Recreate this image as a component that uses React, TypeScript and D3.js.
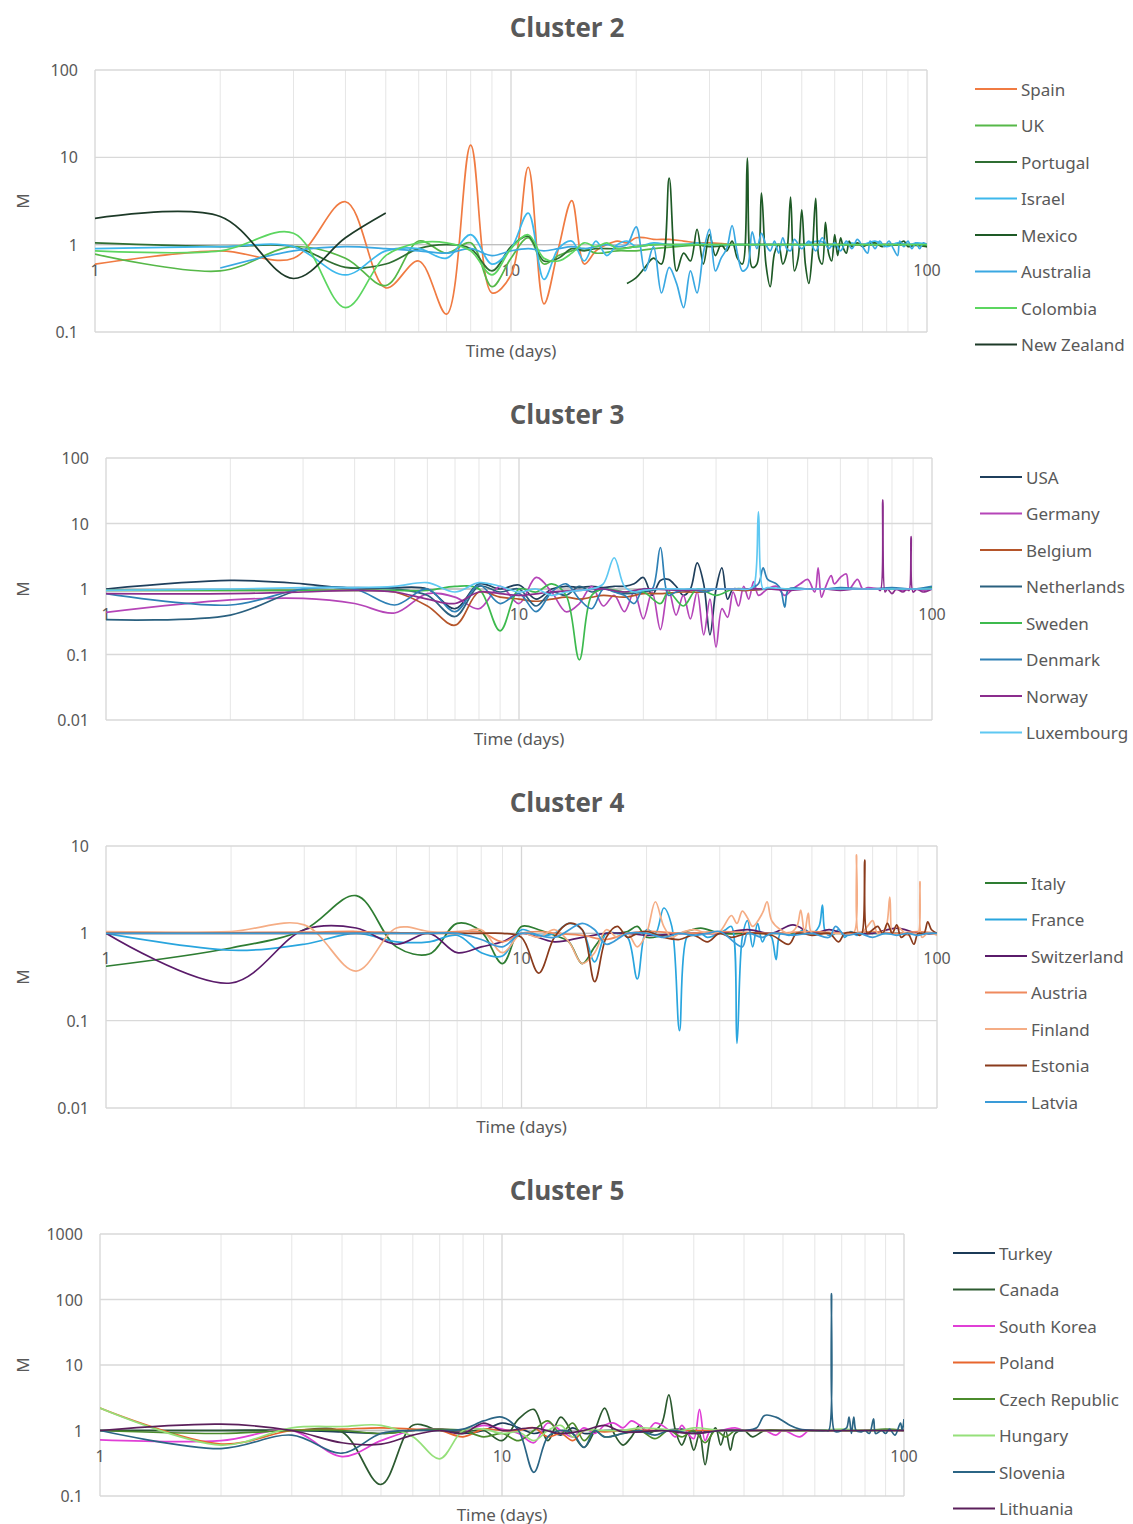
import React from "react";
import * as d3 from "d3";

type Pt = [number, number];

// ---------- Cluster 2 ----------
const spain: Pt[] = [[1,0.6],[2,0.85],[3,0.7],[4,3.1],[5,0.32],[6,0.65],[7,0.16],[8,13.8],[9,0.28],[10,0.45],[11,7.7],[12,0.21],[13,0.9],[14,3.2],[15,0.6],[16,0.85],[17,1.0],[18,1.1],[19,1.05],[20,1.2],[21,1.2],[22,1.15],[24,1.15],[26,1.1],[28,1.05],[30,1.05],[35,1.0],[40,1.0],[50,1.0],[60,1.0],[70,1.0],[80,1.0],[90,1.0],[100,1.0]];
const uk: Pt[] = [[1,0.78],[2,0.5],[3,0.95],[4,0.7],[5,0.34],[6,1.1],[7,0.8],[8,1.05],[9,0.33],[10,0.7],[11,1.2],[12,0.6],[13,0.75],[14,0.85],[15,0.9],[16,0.8],[18,0.85],[20,0.85],[22,0.9],[25,0.95],[30,1.0],[40,1.0],[50,1.0],[60,1.0],[70,1.0],[80,1.0],[90,1.0],[100,1.0]];
const portugal: Pt[] = [[1,1.05],[2,0.95],[3,0.95],[4,0.55],[5,0.6],[6,0.9],[7,1.0],[8,0.9],[9,0.5],[10,0.95],[11,1.25],[12,0.65],[13,0.7],[14,0.9],[15,0.85],[16,0.9],[18,0.9],[20,0.95],[22,1.0],[25,1.0],[28,1.0],[30,0.95],[35,1.0],[40,1.0],[50,1.0],[60,1.0],[70,1.0],[80,1.0],[90,1.0],[100,0.95]];
const israel: Pt[] = [[1,0.9],[2,0.95],[3,0.95],[4,0.45],[5,0.85],[6,0.9],[7,0.7],[8,1.3],[9,0.6],[10,0.9],[11,2.3],[12,0.4],[13,0.9],[14,1.1],[15,0.65],[16,1.1],[17,0.75],[18,1.0],[19,1.1],[20,0.95],[22,1.05],[24,1.0],[26,1.0],[28,1.05],[30,1.0],[35,1.0],[40,1.0],[45,1.0],[50,1.0],[55,1.1],[60,0.95],[65,1.05],[70,1.0],[75,1.1],[80,0.95],[85,1.05],[90,1.0],[95,1.05],[100,1.0]];
const mexico: Pt[] = [[19,0.36],[20,0.42],[21,0.55],[22,0.7],[23,0.6],[24,5.8],[25,0.5],[26,0.8],[27,0.65],[28,1.5],[29,0.6],[30,1.3],[31,0.75],[32,1.0],[33,0.85],[34,1.1],[35,0.7],[36,0.6],[37,9.8],[38,0.55],[39,0.6],[40,3.9],[41,0.6],[42,0.33],[43,0.8],[44,1.0],[45,0.6],[46,0.8],[47,3.5],[48,0.5],[49,0.7],[50,2.5],[51,0.6],[52,0.36],[53,0.8],[54,3.4],[55,0.7],[56,0.6],[57,1.8],[58,0.8],[59,0.65],[60,1.3],[61,0.75],[62,1.2],[63,0.9],[64,0.8],[65,1.1],[66,0.95],[68,1.05],[70,0.95],[72,1.0],[75,1.05],[78,0.95],[80,1.0],[85,1.0],[88,1.1],[90,0.95],[95,1.0],[100,0.95]];
const australia: Pt[] = [[2,0.54],[3,0.85],[4,0.95],[5,0.9],[6,0.85],[7,0.8],[8,0.9],[9,0.75],[10,0.85],[11,0.9],[12,0.85],[13,0.9],[14,0.95],[15,0.9],[16,0.95],[17,1.0],[18,0.95],[19,1.0],[20,1.6],[21,0.5],[22,0.95],[23,0.28],[24,0.55],[25,0.36],[26,0.19],[27,0.5],[28,0.28],[29,0.8],[30,1.5],[31,0.5],[32,0.7],[33,0.9],[34,1.65],[35,0.8],[36,0.5],[37,0.55],[38,1.4],[39,0.9],[40,1.35],[41,1.0],[42,0.85],[43,1.1],[44,0.8],[45,1.2],[46,0.9],[47,0.85],[48,1.15],[50,0.9],[52,1.1],[54,0.85],[56,1.2],[58,0.9],[60,1.05],[62,0.85],[64,1.1],[66,0.9],[68,1.15],[70,0.95],[72,0.8],[73,1.1],[75,0.9],[77,1.1],[79,0.95],[81,1.1],[83,0.9],[85,0.75],[86,1.1],[88,0.95],[90,1.1],[92,0.9],[94,1.05],[96,0.9],[98,1.05],[100,1.0]];
const colombia: Pt[] = [[1,0.85],[2,0.85],[3,1.35],[4,0.19],[5,0.75],[6,1.05],[7,1.05],[8,0.85],[9,0.45],[10,0.9],[11,1.3],[12,0.7],[13,0.65],[14,0.8],[15,1.05],[16,0.95],[17,1.05],[18,0.9],[20,0.95],[22,1.0],[25,1.0],[30,1.0],[40,1.0],[50,1.0],[60,1.0],[70,1.0],[80,1.0],[90,1.0],[100,1.0]];
const newZealand: Pt[] = [[1,2.0],[2,2.1],[3,0.41],[4,1.2],[5,2.3]];

// ---------- Cluster 3 ----------
const usa: Pt[] = [[1,1.0],[2,1.35],[3,1.2],[4,1.0],[5,1.05],[6,1.0],[7,0.5],[8,1.2],[9,1.0],[10,1.15],[11,0.7],[12,1.0],[13,1.1],[14,1.05],[15,1.1],[16,1.05],[17,1.1],[18,1.1],[19,1.2],[20,1.5],[21,0.8],[22,1.35],[23,1.4],[24,1.1],[25,0.8],[26,1.0],[27,2.5],[28,1.2],[29,0.2],[30,1.0],[31,2.1],[32,0.7],[33,1.0],[35,0.95],[40,1.0],[45,1.0],[50,1.0],[60,1.0],[70,1.0],[80,1.0],[90,1.0],[100,1.0]];
const germany: Pt[] = [[1,0.44],[2,0.68],[3,0.72],[4,0.6],[5,0.43],[6,0.85],[7,0.75],[8,0.5],[9,1.1],[10,0.6],[11,1.5],[12,0.9],[13,0.45],[14,0.6],[15,1.1],[16,0.55],[17,0.8],[18,0.45],[19,0.9],[20,0.35],[21,0.9],[22,0.24],[23,1.0],[24,0.4],[25,0.8],[26,0.35],[27,0.9],[28,0.2],[29,0.7],[30,0.13],[31,0.5],[32,0.37],[33,0.9],[34,0.55],[35,1.1],[36,0.7],[37,1.3],[38,0.8],[40,1.0],[42,1.1],[44,0.8],[46,1.0],[48,1.2],[50,1.4],[52,0.9],[53,2.1],[54,0.75],[55,1.0],[57,1.6],[58,1.2],[60,1.5],[62,1.7],[63,1.0],[66,1.4],[68,1.0],[70,1.05],[75,1.0],[80,1.0],[85,0.95],[90,1.0],[95,0.95],[100,1.0]];
const belgium: Pt[] = [[1,0.95],[2,0.95],[3,0.95],[4,0.95],[5,0.9],[6,0.55],[7,0.28],[8,0.9],[9,0.75],[10,0.7],[11,0.65],[12,0.7],[13,0.75],[14,0.7],[15,0.75],[16,0.8],[18,0.75],[20,0.85],[22,0.85],[25,0.9],[28,0.9],[30,1.0],[35,0.95],[40,1.0],[50,1.0],[60,1.0],[70,1.0],[80,1.0],[90,1.0],[100,1.0]];
const netherlands: Pt[] = [[1,0.34],[2,0.4],[3,1.0],[4,1.05],[5,1.0],[6,0.8],[7,0.38],[8,1.1],[9,0.9],[10,1.0],[11,0.55],[12,0.9],[13,0.8],[14,1.1],[15,0.9],[16,1.0],[18,0.85],[20,0.9],[22,1.0],[25,0.95],[30,1.0],[40,1.0],[50,1.0],[60,1.0],[70,1.0],[80,1.0],[90,1.0],[100,1.0]];
const sweden: Pt[] = [[1,0.95],[2,0.95],[3,0.95],[4,0.95],[5,0.95],[6,0.95],[7,1.1],[8,1.0],[9,0.23],[10,1.0],[11,0.9],[12,1.2],[13,0.8],[14,0.083],[15,0.8],[16,1.0],[18,0.9],[20,0.9],[22,0.6],[23,0.9],[25,0.55],[27,1.0],[30,0.8],[33,1.0],[36,1.0],[40,1.0],[45,1.0],[50,1.0],[60,1.0],[70,1.0],[80,1.0],[90,1.0],[100,1.05]];
const denmark: Pt[] = [[1,0.85],[2,0.57],[3,1.0],[4,1.0],[5,0.57],[6,1.0],[7,0.45],[8,1.15],[9,0.6],[10,0.85],[11,0.45],[12,0.9],[13,1.2],[14,0.7],[15,0.5],[16,1.0],[17,0.9],[18,0.8],[19,0.6],[20,1.0],[21,1.0],[22,4.3],[23,0.8],[24,0.9],[26,1.0],[28,0.9],[30,1.0],[33,1.0],[36,1.0],[38,1.2],[39,2.1],[40,1.4],[42,1.2],[43,1.0],[44,0.53],[45,1.0],[50,1.0],[55,1.0],[60,1.05],[70,1.0],[80,1.05],[90,1.0],[100,1.1]];
const norway: Pt[] = [[1,0.85],[2,0.85],[3,0.9],[4,0.95],[5,0.9],[6,0.7],[7,0.6],[8,0.9],[9,0.85],[10,0.8],[12,0.9],[14,0.95],[16,1.0],[18,0.9],[20,1.0],[25,0.95],[30,1.0],[35,1.0],[40,1.0],[45,0.95],[50,1.0],[55,1.0],[60,0.95],[65,1.0],[70,1.0],[74,1.0],[75,0.95],[76,23],[77,0.9],[78,1.0],[80,0.85],[82,1.0],[85,0.9],[87,1.0],[88,0.95],[89,6.3],[90,0.9],[92,1.0],[95,0.9],[100,1.0]];
const luxembourg: Pt[] = [[1,0.95],[2,1.0],[3,1.05],[4,1.05],[5,1.1],[6,1.25],[7,0.9],[8,1.25],[9,1.1],[10,0.9],[11,1.0],[12,0.8],[13,0.9],[14,0.95],[15,1.0],[16,1.2],[17,3.0],[18,1.1],[19,0.9],[20,0.95],[22,1.0],[25,1.0],[30,1.0],[34,1.0],[36,1.0],[37,1.1],[38,15],[39,1.0],[40,1.05],[45,1.0],[50,1.0],[60,1.0],[70,1.0],[80,1.0],[90,1.0],[100,1.0]];

// ---------- Cluster 4 ----------
const italy: Pt[] = [[1,0.42],[2,0.68],[3,1.1],[4,2.7],[5,0.7],[6,0.58],[7,1.3],[8,1.05],[9,0.45],[10,1.2],[11,1.1],[12,0.95],[13,0.8],[14,0.45],[15,0.7],[16,1.0],[17,1.0],[18,1.05],[19,1.2],[20,0.9],[22,0.95],[24,1.0],[27,1.15],[30,1.0],[35,1.0],[40,1.0],[50,1.0],[60,1.0],[70,1.0],[80,1.0],[90,1.0],[100,1.0]];
const france: Pt[] = [[1,1.0],[2,0.64],[3,0.75],[4,1.0],[5,0.8],[6,0.8],[7,0.95],[8,0.6],[9,0.55],[10,1.1],[11,0.95],[12,1.0],[13,1.3],[14,1.1],[15,0.47],[16,1.0],[17,1.0],[18,0.9],[19,0.3],[20,1.1],[21,1.0],[22,1.95],[23,1.2],[24,0.077],[25,0.9],[26,1.0],[27,1.0],[28,0.9],[30,1.0],[31,1.1],[32,1.2],[33,0.055],[34,0.9],[35,1.4],[36,0.7],[37,1.3],[38,0.8],[39,1.0],[40,0.9],[41,0.5],[42,1.0],[44,0.95],[46,1.0],[48,1.1],[50,1.0],[52,1.2],[53,2.1],[54,1.0],[56,0.95],[58,1.1],[60,0.9],[62,1.05],[64,0.95],[66,1.0],[70,1.0],[75,1.0],[80,1.0],[85,1.0],[90,1.0],[95,1.0],[100,1.0]];
const switzerland: Pt[] = [[1,1.0],[2,0.27],[3,1.1],[4,1.15],[5,0.75],[6,1.0],[7,0.6],[8,0.7],[9,0.8],[10,1.0],[12,0.8],[14,0.9],[16,1.0],[18,1.0],[20,0.95],[25,1.0],[30,1.0],[35,1.1],[40,1.0],[45,1.25],[50,1.0],[55,1.1],[60,1.0],[70,1.0],[80,1.15],[90,1.0],[100,1.0]];
const austria: Pt[] = [[1,1.03],[2,1.02],[3,1.03],[4,1.05],[5,1.02],[6,1.0],[7,1.05],[8,1.03],[9,0.8],[10,1.0],[11,1.05],[12,1.0],[14,0.95],[16,0.85],[18,1.0],[20,1.05],[25,1.0],[30,1.05],[40,1.0],[50,1.05],[60,1.0],[70,1.05],[80,1.0],[90,1.05],[100,1.0]];
const finland: Pt[] = [[1,1.05],[2,1.05],[3,1.25],[4,0.37],[5,1.15],[6,1.05],[7,1.0],[8,1.1],[9,0.6],[10,1.0],[11,0.9],[12,1.1],[13,0.8],[14,0.45],[15,0.6],[16,1.1],[17,0.9],[18,1.0],[19,0.7],[20,1.0],[21,2.3],[22,1.2],[23,0.9],[24,1.0],[26,1.1],[28,1.0],[30,1.05],[32,1.6],[33,1.3],[34,1.8],[35,1.5],[36,1.2],[38,1.7],[39,2.3],[40,1.4],[42,1.1],[44,1.0],[46,1.2],[47,1.85],[48,1.0],[49,1.7],[50,1.0],[55,1.0],[60,1.0],[63,1.0],[64,7.9],[65,0.95],[68,1.2],[70,1.4],[72,1.0],[75,1.1],[77,2.6],[78,1.0],[80,1.2],[85,0.95],[88,1.0],[90,1.0],[91,3.9],[92,0.9],[95,1.0],[100,0.95]];
const estonia: Pt[] = [[1,1.0],[2,1.0],[3,1.0],[4,1.0],[5,1.0],[6,1.0],[7,1.0],[8,1.0],[9,1.0],[10,0.9],[11,0.35],[12,0.9],[13,1.3],[14,1.1],[15,0.28],[16,0.9],[17,1.2],[18,0.9],[19,1.0],[20,1.05],[22,0.9],[24,0.85],[26,0.95],[28,0.8],[30,1.0],[32,0.9],[35,1.0],[40,0.95],[44,0.75],[46,1.0],[50,0.95],[55,1.0],[58,0.8],[60,1.0],[64,1.0],[65,0.95],[66,1.0],[67,6.9],[68,1.0],[70,1.1],[72,1.2],[74,1.0],[76,1.3],[78,1.0],[80,1.25],[82,0.9],[85,1.0],[88,0.75],[90,1.0],[93,1.0],[95,1.35],[97,1.1],[100,1.0]];
const latvia: Pt[] = [[1,1.0],[2,1.0],[3,1.0],[4,1.0],[5,1.0],[6,1.0],[7,1.0],[8,0.85],[9,0.7],[10,1.0],[12,0.9],[14,1.3],[15,1.1],[16,0.75],[18,1.0],[20,1.0],[22,0.9],[24,1.0],[26,0.95],[28,1.0],[30,1.05],[34,0.7],[35,1.0],[38,0.9],[40,1.0],[45,0.95],[50,1.0],[55,0.9],[57,1.2],[60,0.95],[65,1.0],[70,0.9],[75,1.0],[80,0.95],[85,1.0],[90,0.95],[95,1.0],[100,1.0]];

// ---------- Cluster 5 ----------
const turkey: Pt[] = [[1,1.0],[2,1.0],[3,1.0],[4,0.95],[5,0.9],[6,1.0],[7,1.05],[8,0.9],[9,1.0],[10,1.3],[11,1.1],[12,0.9],[13,1.0],[14,0.85],[15,1.1],[16,0.9],[18,1.0],[20,1.0],[22,0.95],[25,1.0],[28,1.05],[30,0.95],[35,1.0],[40,1.0],[50,1.0],[60,1.0],[70,1.0],[80,1.0],[90,1.0],[100,1.0]];
const canada: Pt[] = [[1,1.0],[2,1.0],[3,1.0],[4,0.95],[5,0.15],[6,1.2],[7,1.0],[8,0.95],[9,1.0],[10,0.7],[11,1.5],[12,2.1],[13,0.7],[14,1.6],[15,0.9],[16,0.55],[17,1.0],[18,2.2],[19,0.9],[20,0.6],[21,0.8],[22,1.2],[23,0.9],[24,1.0],[25,1.3],[26,3.5],[27,1.0],[28,0.6],[29,0.9],[30,0.5],[31,0.9],[32,0.3],[33,0.8],[34,1.1],[35,0.6],[36,1.0],[37,0.5],[38,0.9],[40,1.0],[42,0.8],[45,1.0],[50,1.0],[60,1.0],[70,1.0],[80,1.0],[90,1.0],[100,1.0]];
const southKorea: Pt[] = [[1,0.72],[2,0.7],[3,1.0],[4,0.4],[5,0.7],[6,1.0],[7,1.05],[8,1.0],[9,1.2],[10,1.05],[11,0.9],[12,0.65],[13,1.3],[14,1.0],[15,0.8],[16,1.1],[17,0.9],[18,1.2],[19,1.3],[20,1.1],[21,1.4],[22,1.2],[23,1.0],[24,1.3],[25,1.2],[26,1.0],[27,0.8],[28,1.2],[29,0.9],[30,0.75],[31,2.1],[32,0.7],[33,1.0],[35,1.0],[38,1.1],[40,1.0],[45,1.0],[48,0.85],[50,1.0],[55,0.8],[58,1.0],[60,1.0],[70,1.0],[80,1.0],[90,1.0],[100,1.0]];
const poland: Pt[] = [[1,2.2],[2,0.62],[3,1.0],[4,1.05],[5,1.1],[6,1.05],[7,1.0],[8,0.8],[9,1.05],[10,1.0],[11,1.0],[12,1.1],[13,0.8],[14,0.9],[15,0.7],[16,1.0],[18,0.95],[20,1.0],[25,1.0],[30,1.0],[40,1.0],[50,1.0],[60,1.0],[70,1.0],[80,1.0],[90,1.0],[100,1.0]];
const czech: Pt[] = [[1,1.0],[2,0.9],[3,1.0],[4,1.0],[5,0.9],[6,1.0],[7,1.05],[8,1.0],[9,0.8],[10,0.9],[11,0.7],[12,1.0],[13,1.4],[14,0.9],[15,1.3],[16,0.7],[17,1.0],[18,0.8],[20,0.9],[22,1.0],[24,0.75],[26,1.0],[28,0.8],[30,1.0],[32,0.65],[34,1.0],[36,0.8],[38,1.0],[40,1.0],[45,1.0],[50,1.0],[60,1.0],[70,1.0],[80,1.0],[90,1.05],[100,1.0]];
const hungary: Pt[] = [[1,2.2],[2,0.6],[3,1.1],[4,1.15],[5,1.2],[6,0.8],[7,0.37],[8,1.0],[9,1.05],[10,0.9],[11,0.95],[12,0.7],[13,1.0],[14,1.2],[15,0.8],[16,1.0],[18,1.0],[20,1.0],[22,1.1],[25,1.05],[28,1.0],[30,1.1],[35,1.0],[40,1.0],[50,1.0],[60,1.0],[70,1.05],[80,1.0],[90,1.0],[100,1.0]];
const slovenia: Pt[] = [[1,1.0],[2,0.53],[3,0.85],[4,0.45],[5,0.9],[6,1.0],[7,1.0],[8,1.05],[9,1.4],[10,1.6],[11,1.0],[12,0.23],[13,0.8],[14,1.0],[15,0.9],[16,0.55],[17,1.0],[18,0.8],[20,0.9],[22,1.0],[24,0.85],[26,1.0],[30,0.9],[35,1.0],[40,1.0],[43,1.1],[45,1.7],[48,1.6],[50,1.4],[52,1.2],[55,1.05],[60,1.0],[64,1.0],[65,1.0],[66,123],[67,1.0],[68,0.95],[70,1.0],[72,1.1],[73,1.6],[74,0.9],[75,1.6],[76,1.0],[78,0.95],[80,1.0],[82,0.9],[84,1.5],[85,0.9],[88,1.0],[90,0.9],[92,1.05],[95,0.85],[98,1.3],[99,1.0],[100,1.5]];
const lithuania: Pt[] = [[1,1.0],[2,1.25],[3,1.0],[4,0.65],[5,0.62],[6,0.85],[7,1.0],[8,0.9],[9,1.3],[10,1.0],[12,1.1],[14,0.9],[16,1.0],[18,1.2],[20,0.95],[25,1.0],[30,0.9],[35,1.0],[40,1.0],[50,1.0],[60,1.0],[70,1.0],[80,1.0],[90,1.0],[100,1.0]];

const xTicks = [1, 10, 100];

interface Series { name: string; color: string; data: Pt[] }
interface Panel {
  title: string;
  yDomain: [number, number];
  left: number; right: number; top: number; bottom: number;
  titleY: number; legendX: number; legendY: number;
  series: Series[];
}

const panels: Panel[] = [
  {
    title: "Cluster 2", yDomain: [0.1, 100],
    left: 95, right: 927, top: 70, bottom: 332, titleY: 27, legendX: 975, legendY: 89,
    series: [
      { name: "Spain", color: "#f07b42", data: spain },
      { name: "UK", color: "#56b848", data: uk },
      { name: "Portugal", color: "#2f6e32", data: portugal },
      { name: "Israel", color: "#3db8ec", data: israel },
      { name: "Mexico", color: "#1e5a26", data: mexico },
      { name: "Australia", color: "#3aa8e2", data: australia },
      { name: "Colombia", color: "#5cd660", data: colombia },
      { name: "New Zealand", color: "#1d3a28", data: newZealand },
    ],
  },
  {
    title: "Cluster 3", yDomain: [0.01, 100],
    left: 106, right: 932, top: 458, bottom: 720, titleY: 414, legendX: 980, legendY: 477,
    series: [
      { name: "USA", color: "#1f3f5c", data: usa },
      { name: "Germany", color: "#b545b8", data: germany },
      { name: "Belgium", color: "#b5552a", data: belgium },
      { name: "Netherlands", color: "#2a607f", data: netherlands },
      { name: "Sweden", color: "#3dba4e", data: sweden },
      { name: "Denmark", color: "#2e80b5", data: denmark },
      { name: "Norway", color: "#8b2d8d", data: norway },
      { name: "Luxembourg", color: "#5ec8f2", data: luxembourg },
    ],
  },
  {
    title: "Cluster 4", yDomain: [0.01, 10],
    left: 106, right: 937, top: 846, bottom: 1108, titleY: 802, legendX: 985, legendY: 883,
    series: [
      { name: "Italy", color: "#2e7d32", data: italy },
      { name: "France", color: "#29a5de", data: france },
      { name: "Switzerland", color: "#5a1b6a", data: switzerland },
      { name: "Austria", color: "#ef8a5e", data: austria },
      { name: "Finland", color: "#f5ad85", data: finland },
      { name: "Estonia", color: "#8a3b1c", data: estonia },
      { name: "Latvia", color: "#3a9bd8", data: latvia },
    ],
  },
  {
    title: "Cluster 5", yDomain: [0.1, 1000],
    left: 100, right: 904, top: 1234, bottom: 1496, titleY: 1190, legendX: 953, legendY: 1253,
    series: [
      { name: "Turkey", color: "#1b3a57", data: turkey },
      { name: "Canada", color: "#2c5a30", data: canada },
      { name: "South Korea", color: "#e03fd6", data: southKorea },
      { name: "Poland", color: "#e8662e", data: poland },
      { name: "Czech Republic", color: "#4b8b2c", data: czech },
      { name: "Hungary", color: "#95e07a", data: hungary },
      { name: "Slovenia", color: "#2b6585", data: slovenia },
      { name: "Lithuania", color: "#5b1f5b", data: lithuania },
    ],
  },
];

const TEXT = "#595959";
const FONT = "'Noto Sans', 'Open Sans', sans-serif";
const LEGEND_STEP = 36.5;

function decades(lo: number, hi: number): number[] {
  const out: number[] = [];
  for (let v = lo; v <= hi * 1.0001; v *= 10) out.push(+v.toPrecision(3));
  return out;
}

function fmt(v: number): string {
  return v >= 1 ? String(Math.round(v)) : String(+v.toPrecision(1));
}

function ChartPanel({ p, idx }: { p: Panel; idx: number }) {
  const x = d3.scaleLog().domain([1, 100]).range([p.left, p.right]);
  const y = d3.scaleLog().domain(p.yDomain).range([p.bottom, p.top]);
  const line = d3
    .line<Pt>()
    .x((d) => x(d[0]))
    .y((d) => y(d[1]))
    .curve(d3.curveCatmullRom.alpha(0.5));

  const minorX: number[] = [];
  for (const base of [1, 10]) for (let k = 2; k <= 9; k++) minorX.push(base * k);
  const yDec = decades(p.yDomain[0], p.yDomain[1]);
  const clipId = `clip-${idx}`;
  const cx = (p.left + p.right) / 2;
  const cy = (p.top + p.bottom) / 2;

  return (
    <g>
      <defs>
        <clipPath id={clipId}>
          <rect x={p.left} y={p.top - 2} width={p.right - p.left} height={p.bottom - p.top + 4} />
        </clipPath>
      </defs>
      <text x={567} y={p.titleY} textAnchor="middle" dominantBaseline="central"
        fontFamily="'Open Sans', 'Noto Sans', sans-serif" fontWeight={700} fontSize={26} fill={TEXT}>
        {p.title}
      </text>
      {minorX.map((d) => (
        <line key={`mx${d}`} x1={x(d)} x2={x(d)} y1={p.top} y2={p.bottom} stroke="#e6e6e6" strokeWidth={1} />
      ))}
      {xTicks.map((d) => (
        <line key={`Mx${d}`} x1={x(d)} x2={x(d)} y1={p.top} y2={p.bottom} stroke="#d6d6d6" strokeWidth={1.3} />
      ))}
      {yDec.map((v) => (
        <line key={`gy${v}`} x1={p.left} x2={p.right} y1={y(v)} y2={y(v)} stroke="#d9d9d9" strokeWidth={1.3} />
      ))}
      <line x1={p.left} x2={p.right} y1={y(1)} y2={y(1)} stroke="#bfbfbf" strokeWidth={1.3} />
      {yDec.map((v) => (
        <text key={`ty${v}`} x={p.left - 17} y={y(v)} textAnchor="end" dominantBaseline="central"
          fontFamily={FONT} fontSize={16} fill={TEXT}>
          {fmt(v)}
        </text>
      ))}
      {xTicks.map((d) => (
        <text key={`tx${d}`} x={x(d)} y={y(1) + 25} textAnchor="middle" dominantBaseline="central"
          fontFamily={FONT} fontSize={16} fill={TEXT}>
          {d}
        </text>
      ))}
      <text x={cx} y={p.bottom + 18} textAnchor="middle" dominantBaseline="central"
        fontFamily={FONT} fontSize={17} fill={TEXT}>
        Time (days)
      </text>
      <text transform={`translate(22,${cy}) rotate(-90)`} textAnchor="middle" dominantBaseline="central"
        fontFamily={FONT} fontSize={17} fill={TEXT}>
        M
      </text>
      <g clipPath={`url(#${clipId})`}>
        {p.series.map((s) => (
          <path key={s.name} d={line(s.data) ?? ""} fill="none" stroke={s.color} strokeWidth={1.7} strokeLinejoin="round" />
        ))}
      </g>
      {p.series.map((s, i) => {
        const ly = p.legendY + i * LEGEND_STEP;
        return (
          <g key={`lg${s.name}`}>
            <line x1={p.legendX} x2={p.legendX + 42} y1={ly} y2={ly} stroke={s.color} strokeWidth={2} />
            <text x={p.legendX + 46} y={ly} dominantBaseline="central" fontFamily={FONT} fontSize={17} fill={TEXT}>
              {s.name}
            </text>
          </g>
        );
      })}
    </g>
  );
}

export default function App() {
  return (
    <svg width={1133} height={1524} viewBox="0 0 1133 1524"
      style={{ position: "absolute", left: 0, top: 0, background: "#fff" }}>
      <rect width={1133} height={1524} fill="#fff" />
      {panels.map((p, i) => (
        <ChartPanel key={p.title} p={p} idx={i} />
      ))}
    </svg>
  );
}
